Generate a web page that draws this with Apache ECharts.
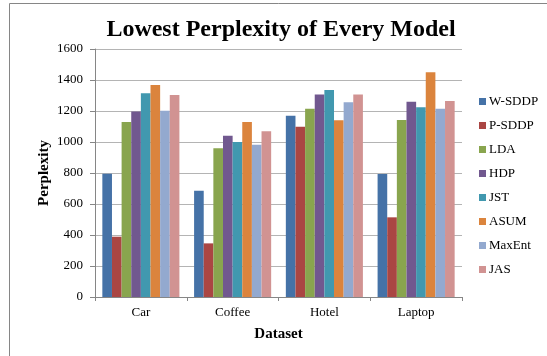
<!DOCTYPE html>
<html>
<head>
<meta charset="utf-8">
<script src="https://cdn.jsdelivr.net/npm/echarts@6/dist/echarts.min.js"></script>
<style>
  html, body { margin: 0; padding: 0; background: #fff; }
  #c1 { width: 547px; height: 356px; }
</style>
</head>
<body>
<div id="c1"></div>
<script>
// 数据
var categories = ['Car', 'Coffee', 'Hotel', 'Laptop']
var models = ['W-SDDP', 'P-SDDP', 'LDA', 'HDP', 'JST', 'ASUM', 'MaxEnt', 'JAS']
var wSddp = [795, 686, 1170, 794]
var pSddp = [389, 346, 1099, 514]
var lda = [1129, 959, 1215, 1142]
var hdp = [1196, 1041, 1307, 1260]
var jst = [1314, 1000, 1335, 1224]
var asum = [1368, 1129, 1140, 1450]
var maxEnt = [1202, 983, 1256, 1215]
var jas = [1303, 1069, 1307, 1265]
var yTicks = [0, 200, 400, 600, 800, 1000, 1200, 1400, 1600]

var seriesData = [wSddp, pSddp, lda, hdp, jst, asum, maxEnt, jas]
var colors = ['#4572A7', '#AA4643', '#89A54E', '#71588F', '#4198AF', '#DB843D', '#93A9CF', '#D19392']
var font = '"Liberation Serif", "Times New Roman", serif'

var myChart = echarts.init(document.getElementById('c1'))
var option = {
  color: colors,
  animation: false,
  textStyle: { fontFamily: font },
  title: {
    text: 'Lowest Perplexity of Every Model',
    left: 276,
    textAlign: 'center',
    top: 13,
    textStyle: { fontFamily: font, fontSize: 24, fontWeight: 'bold', color: '#000' }
  },
  grid: {
    left: 95,
    right: 85,
    top: 49,
    bottom: 59
  },
  legend: {
    orient: 'vertical',
    left: 474,
    top: 90,
    itemWidth: 7,
    itemHeight: 7,
    itemGap: 11,
    icon: 'rect',
    textStyle: { fontFamily: font, fontSize: 13, color: '#000', padding: [0, 0, 0, -2] },
    data: models
  },
  xAxis: {
    type: 'category',
    data: categories,
    name: 'Dataset',
    nameLocation: 'middle',
    nameGap: 30,
    nameTextStyle: { fontFamily: font, fontSize: 15, fontWeight: 'bold', color: '#000' },
    axisLine: { show: true, lineStyle: { color: '#868686' } },
    axisTick: { show: true, length: 4, lineStyle: { color: '#868686' } },
    axisLabel: { fontFamily: font, fontSize: 13, color: '#000', margin: 9 }
  },
  yAxis: {
    type: 'value',
    min: 0,
    max: 1600,
    interval: 200,
    name: 'Perplexity',
    nameLocation: 'middle',
    nameGap: 43,
    nameMoveOverlap: false,
    nameTextStyle: { fontFamily: font, fontSize: 15, fontWeight: 'bold', color: '#000' },
    axisLine: { show: true, lineStyle: { color: '#868686' } },
    axisTick: { show: true, length: 5, lineStyle: { color: '#868686' } },
    axisLabel: {
      fontFamily: font, fontSize: 13, color: '#000', margin: 12,
      formatter: function (v) { return yTicks.indexOf(v) >= 0 ? String(v) : '' }
    },
    splitLine: { show: true, lineStyle: { color: '#b4b4b4', width: 1 } }
  },
  graphic: [
    { type: 'line', shape: { x1: 9.5, y1: 3.5, x2: 547, y2: 3.5 }, style: { stroke: '#868686', lineWidth: 1 } },
    { type: 'line', shape: { x1: 9.5, y1: 3.5, x2: 9.5, y2: 356 }, style: { stroke: '#868686', lineWidth: 1 } }
  ],
  series: models.map(function (name, i) {
    return {
      name: name,
      type: 'bar',
      data: seriesData[i],
      barGap: '0%',
      barCategoryGap: '16%'
    }
  })
}
option && myChart.setOption(option)
</script>
</body>
</html>
